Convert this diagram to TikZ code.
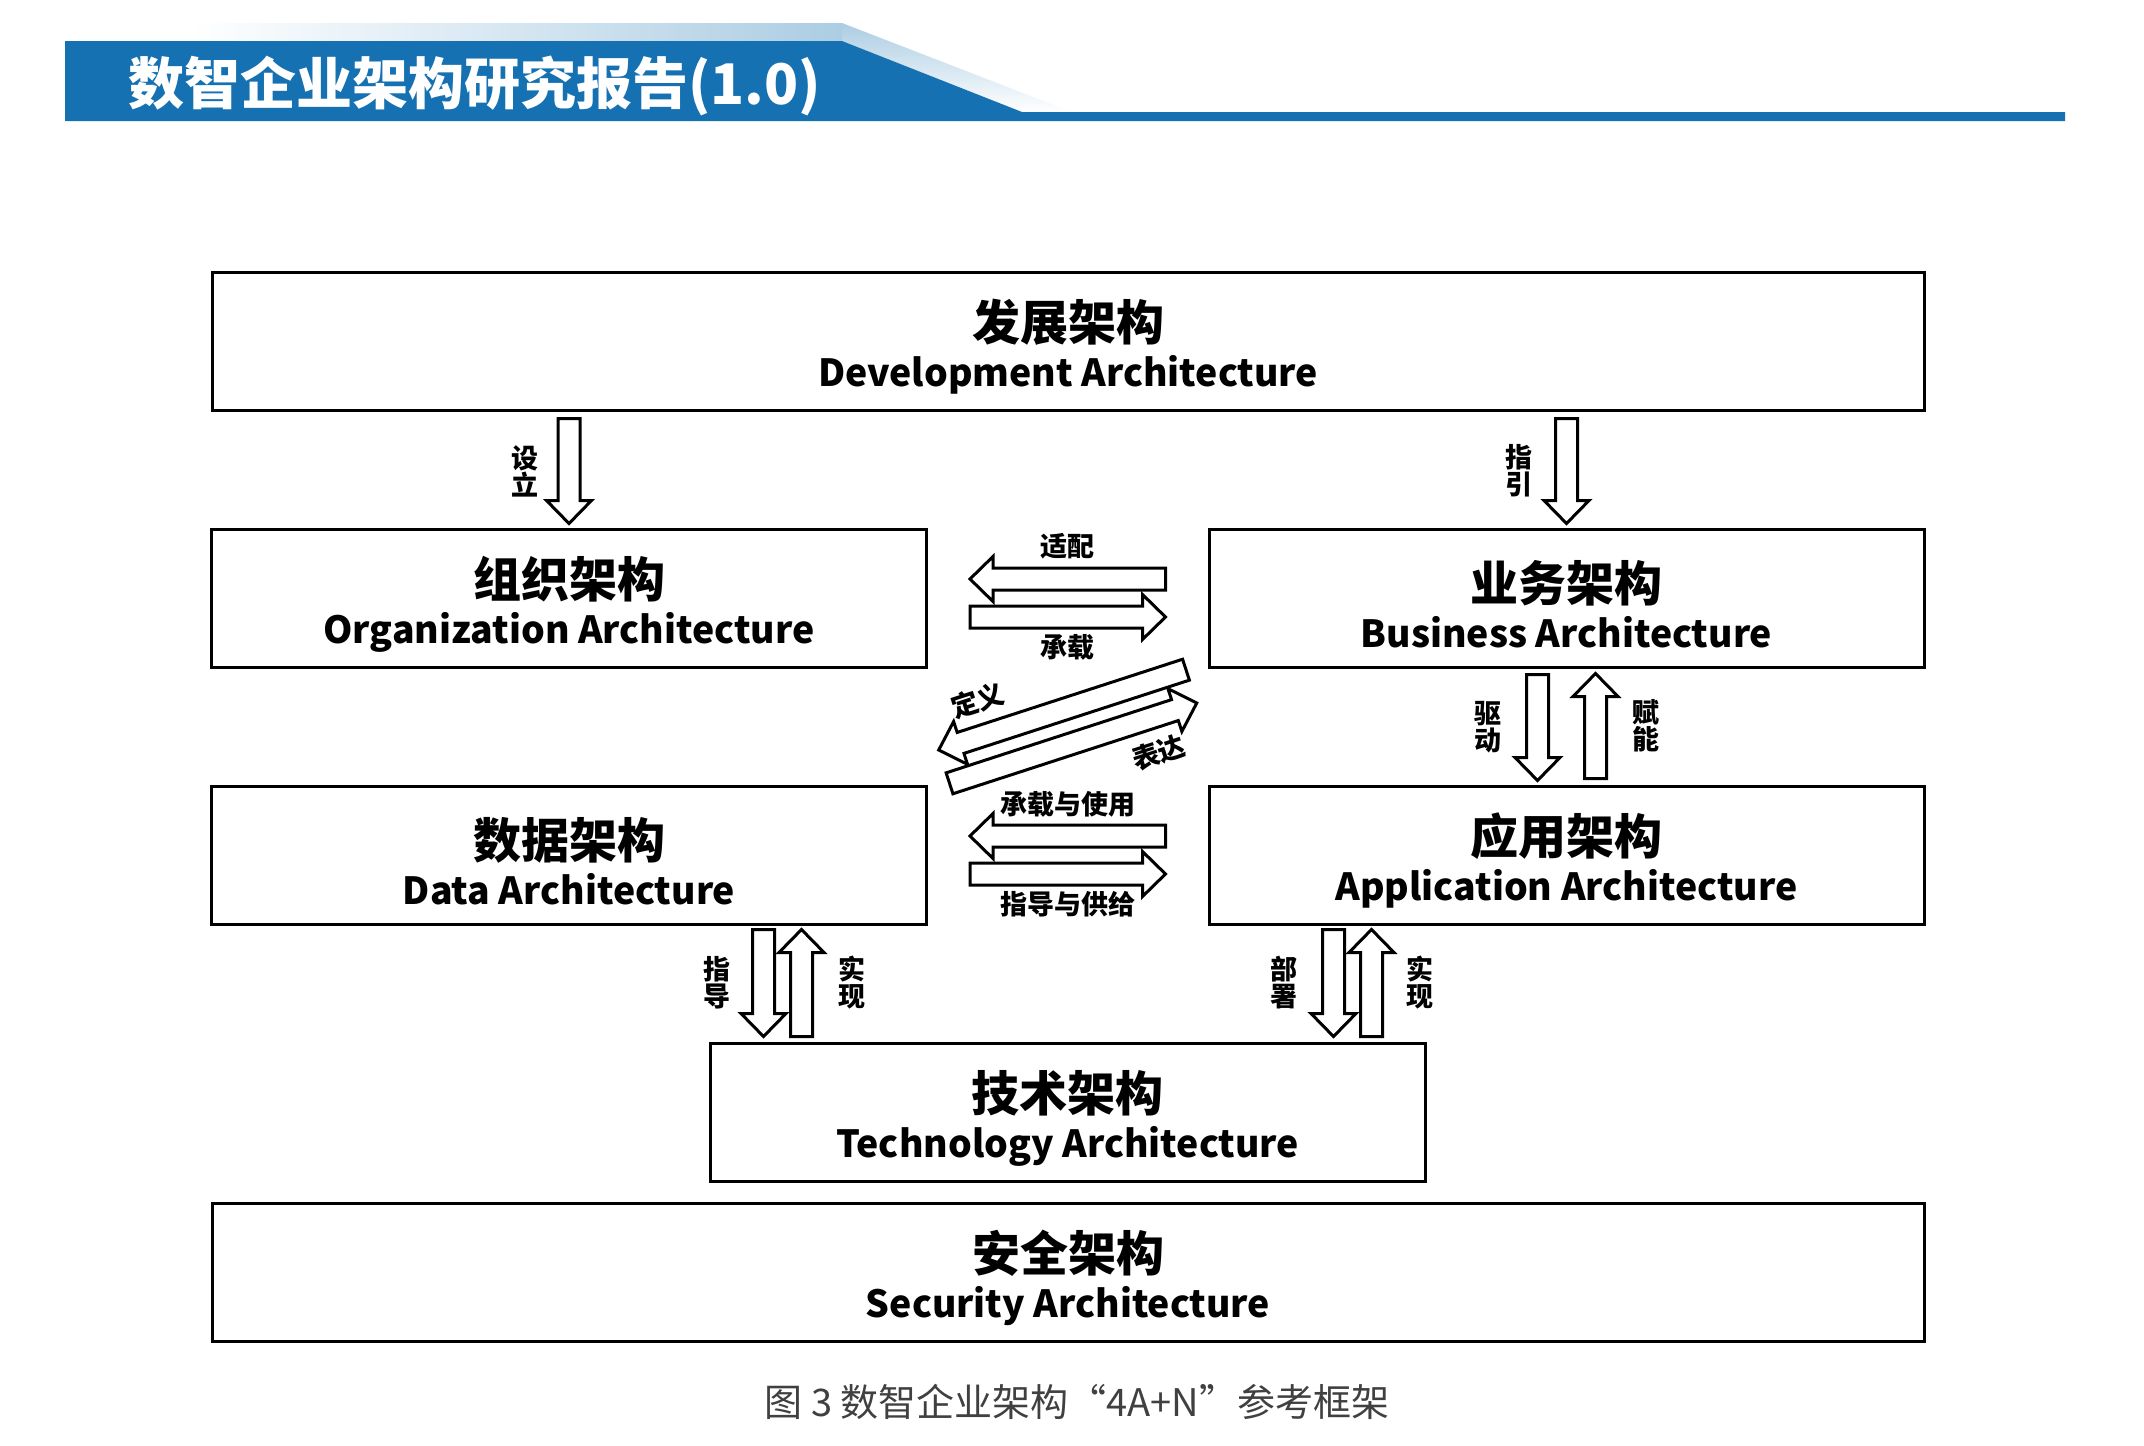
\documentclass[tikz,border=0pt]{standalone}
\usepackage{fontspec}
\setmainfont{Noto Sans CJK SC}
\usepackage{tikz}
\usetikzlibrary{calc}
\definecolor{hdrblue}{RGB}{21,113,177}
\definecolor{hdrlight}{RGB}{172,205,227}
\definecolor{capgray}{RGB}{64,64,64}
\newcommand\zhsize{\fontsize{24}{23}\selectfont\rule{0pt}{26.5pt}}
\newcommand\fatarrow[2]{%
  \coordinate (fa-c) at ($(#2)!11.5pt!(#1)$);
  \draw[fatline] ($(#1)!5.5pt!90:(#2)$) -- ($(fa-c)!5.5pt!90:(#2)$) -- ($(fa-c)!11.25pt!90:(#2)$) -- (#2)
    -- ($(fa-c)!11.25pt!-90:(#2)$) -- ($(fa-c)!5.5pt!-90:(#2)$) -- ($(#1)!5.5pt!-90:(#2)$) -- cycle;}
\tikzset{
  archbox/.style={draw, line width=1.5pt, minimum height=69pt, inner sep=0pt, align=center,
    font=\bfseries\fontsize{18.7}{23}\selectfont},
  widebox/.style={archbox, minimum width=856pt},
  halfbox/.style={archbox, minimum width=357.5pt},
  fatline/.style={draw, fill=white, line width=1.5pt, line join=miter},
  lbl/.style={font=\bfseries\fontsize{13.5}{13.5}\selectfont, align=center, inner sep=0pt},
}
\begin{document}
\begin{tikzpicture}[x=0.5pt,y=-0.5pt]
    \useasboundingbox (0,0) rectangle (2144,1446);
    \fill[white] (0,0) rectangle (2144,1446);

    \shade[left color=white, right color=hdrlight] (190,23) rectangle (842,41);
    \shade[top color=hdrlight, bottom color=white] (842,23) -- (1072,112) -- (1022,112) -- (842,41) -- cycle;
    \fill[hdrblue] (65,41) -- (842,41) -- (1022,112) -- (2065,112) -- (2065,121) -- (65,121) -- cycle;
    \node[anchor=west, text=white, inner sep=0pt, font=\bfseries\fontsize{28}{28}\selectfont] (title) at (128,86) {数智企业架构研究报告(1.0)};

    \node[widebox] (dev) at (1068,341) {{\zhsize 发展架构}\\Development Architecture};
    \node[halfbox] (org) at (569,598) {{\zhsize 组织架构}\\Organization Architecture};
    \node[halfbox] (bus) at (1566.5,598) {{\zhsize 业务架构}\\Business Architecture};
    \node[halfbox] (data) at (569,855) {{\zhsize 数据架构}\\Data Architecture};
    \node[halfbox] (app) at (1566.5,855) {{\zhsize 应用架构}\\Application Architecture};
    \node[halfbox] (tech) at (1067.5,1112) {{\zhsize 技术架构}\\Technology Architecture};
    \node[widebox] (sec) at (1068,1272) {{\zhsize 安全架构}\\Security Architecture};

    \coordinate (sl-s) at ($(dev.south -| org)+(0,7)$);
    \coordinate (sl-e) at ($(org.north)+(0,-4)$);
    \coordinate (zy-s) at ($(dev.south -| bus)+(0,7)$);
    \coordinate (zy-e) at ($(bus.north)+(0,-4)$);
    \fatarrow{sl-s}{sl-e}
    \fatarrow{zy-s}{zy-e}
    \node[lbl] (lb-sl) at ($(sl-s)!.5!(sl-e)+(-44,0)$) {设\\立};
    \node[lbl] (lb-zy) at ($(zy-s)!.5!(zy-e)+(-48,0)$) {指\\引};

    \coordinate (sp-s) at ($(bus.west)+(-42,-19)$);
    \coordinate (sp-e) at ($(org.east)+(42,-19)$);
    \coordinate (cz-s) at ($(org.east)+(42,19)$);
    \coordinate (cz-e) at ($(bus.west)+(-42,19)$);
    \fatarrow{sp-s}{sp-e}
    \fatarrow{cz-s}{cz-e}
    \node[lbl] (lb-sp) at ($(sp-s)!.5!(sp-e)+(0,-33)$) {适配};
    \node[lbl] (lb-cz) at ($(cz-s)!.5!(cz-e)+(0,30)$) {承载};

    \coordinate (hub) at ($(org.south east)!.5!(app.north west)$);
    \coordinate (dy-s) at ($(hub)+(252:17.5)+(-18:130)$);
    \coordinate (dy-e) at ($(hub)+(252:17.5)+(162:130)$);
    \coordinate (bd-s) at ($(hub)+(72:17.5)+(162:130)$);
    \coordinate (bd-e) at ($(hub)+(72:17.5)+(-18:130)$);
    \fatarrow{dy-s}{dy-e}
    \fatarrow{bd-s}{bd-e}
    \node[lbl, rotate=18] (lb-dy) at ($(hub)+(-90,-26)$) {定义};
    \node[lbl, rotate=18] (lb-bd) at ($(hub)+(91,26)$) {表达};

    \coordinate (cs-s) at ($(app.west)+(-42,-19)$);
    \coordinate (cs-e) at ($(data.east)+(42,-19)$);
    \coordinate (zg-s) at ($(data.east)+(42,19)$);
    \coordinate (zg-e) at ($(app.west)+(-42,19)$);
    \fatarrow{cs-s}{cs-e}
    \fatarrow{zg-s}{zg-e}
    \node[lbl] (lb-cs) at ($(cs-s)!.5!(cs-e)+(0,-32)$) {承载与使用};
    \node[lbl] (lb-zg) at ($(zg-s)!.5!(zg-e)+(0,30)$) {指导与供给};

    \coordinate (qd-s) at ($(bus.south)+(-29,6)$);
    \coordinate (qd-e) at ($(app.north)+(-29,-4)$);
    \coordinate (fn-s) at ($(app.north)+(29,-6)$);
    \coordinate (fn-e) at ($(bus.south)+(29,5)$);
    \fatarrow{qd-s}{qd-e}
    \fatarrow{fn-s}{fn-e}
    \node[lbl] (lb-qd) at ($(qd-s)!.5!(qd-e)+(-50,0)$) {驱\\动};
    \node[lbl] (lb-fn) at ($(fn-s)!.5!(fn-e)+(50,0)$) {赋\\能};

    \coordinate (zd-s) at ($(data.south -| tech.west)+(55,4)$);
    \coordinate (zd-e) at ($(tech.north west)+(55,-5)$);
    \coordinate (sx-s) at ($(tech.north west)+(93,-5)$);
    \coordinate (sx-e) at ($(data.south -| tech.west)+(93,4)$);
    \fatarrow{zd-s}{zd-e}
    \fatarrow{sx-s}{sx-e}
    \node[lbl] (lb-zd) at ($(zd-s)!.5!(zd-e)+(-47,0)$) {指\\导};
    \node[lbl] (lb-sx) at ($(sx-s)!.5!(sx-e)+(50,0)$) {实\\现};

    \coordinate (bs-s) at ($(app.south -| tech.east)+(-93,4)$);
    \coordinate (bs-e) at ($(tech.north east)+(-93,-5)$);
    \coordinate (sy-s) at ($(tech.north east)+(-55,-5)$);
    \coordinate (sy-e) at ($(app.south -| tech.east)+(-55,4)$);
    \fatarrow{bs-s}{bs-e}
    \fatarrow{sy-s}{sy-e}
    \node[lbl] (lb-bs) at ($(bs-s)!.5!(bs-e)+(-50,0)$) {部\\署};
    \node[lbl] (lb-sy) at ($(sy-s)!.5!(sy-e)+(48,0)$) {实\\现};

    \node[text=capgray, inner sep=0pt, font=\fontsize{19}{19}\selectfont] (caption) at (1077,1402) {图 3 数智企业架构“4A+N”参考框架};
\end{tikzpicture}
\end{document}
